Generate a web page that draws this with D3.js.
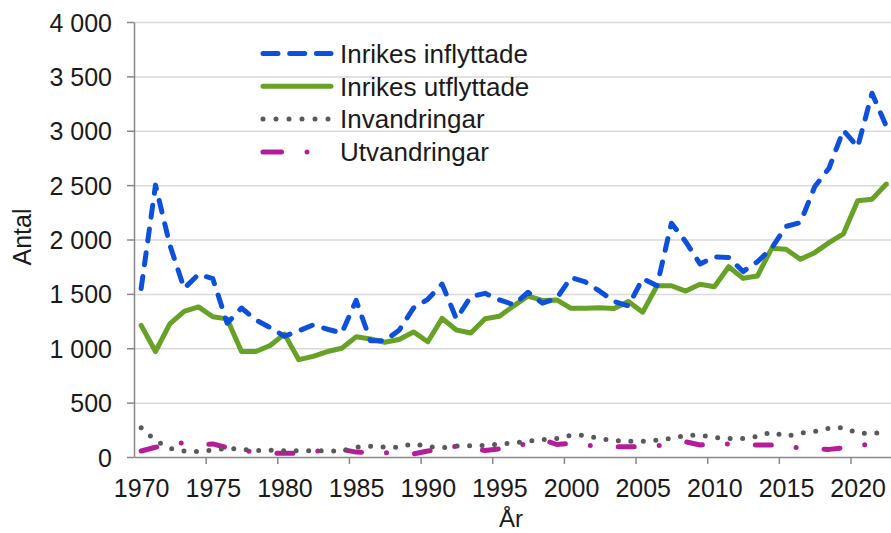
<!DOCTYPE html>
<html>
<head>
<meta charset="utf-8">
<script src="https://cdn.jsdelivr.net/npm/d3@7"></script>
<style>
  body { margin: 0; background: #fff; }
  svg { display: block; font-family: "Liberation Sans", Arial, sans-serif; }
  .axis path, .axis line { stroke: #888888; stroke-width: 1.5; }
  .axis text { fill: #1a1a1a; font-size: 25px; font-family: "Liberation Sans", Arial, sans-serif; }
  .grid line { stroke: #d9d9d9; stroke-width: 1.5; }
  .grid path { display: none; }
</style>
</head>
<body>
<div class="chart"></div>
<script>
// Inflyttning / utflyttning 1970-2022
var years = d3.range(1970, 2023);

var inflyttade = [1550, 2500, 1950, 1550, 1680, 1640, 1230, 1370, 1260, 1190,
  1110, 1160, 1215, 1175, 1140, 1440, 1070, 1070, 1165, 1370,
  1450, 1590, 1270, 1475, 1505, 1445, 1400, 1515, 1415, 1460,
  1650, 1610, 1525, 1430, 1390, 1640, 1575, 2150, 1980, 1775,
  1840, 1835, 1705, 1795, 1920, 2120, 2155, 2485, 2655, 3005,
  2850, 3345, 3040];

var utflyttade = [1210, 970, 1225, 1340, 1380, 1290, 1270, 970, 970, 1025,
  1130, 895, 925, 970, 1000, 1105, 1085, 1055, 1080, 1150,
  1060, 1275, 1168, 1140, 1272, 1295, 1390, 1480, 1440, 1444,
  1367, 1367, 1373, 1365, 1430, 1332, 1575, 1575, 1526, 1588,
  1566, 1750, 1643, 1664, 1919, 1910, 1818, 1879, 1971, 2051,
  2357, 2370, 2510];

var invandringar = [270, 150, 80, 55, 50, 65, 80, 70, 60, 62,
  58, 58, 58, 56, 55, 90, 100, 90, 90, 125,
  95, 85, 100, 104, 106, 118, 130, 145, 160, 170,
  200, 200, 170, 150, 145, 145, 155, 170, 200, 200,
  180, 170, 170, 190, 230, 190, 220, 235, 265, 270,
  220, 215, 235];

var utvandringar = [55, 90, 100, 135, 110, 120, 85, 60, 45, 35,
  35, 35, 50, 65, 70, 45, 40, 40, 35, 28,
  55, 70, 100, 80, 60, 75, 95, 126, 160, 115,
  125, 110, 95, 95, 95, 95, 105, 110, 140, 110,
  125, 120, 115, 110, 110, 105, 80, 75, 70, 85,
  100, 126, 120];

var seriesNames = ["Inrikes inflyttade", "Inrikes utflyttade", "Invandringar", "Utvandringar"];
var yTicks = [0, 500, 1000, 1500, 2000, 2500, 3000, 3500, 4000];
var xLabelYears = [1970, 1975, 1980, 1985, 1990, 1995, 2000, 2005, 2010, 2015, 2020];

var svgWidth = 891;
var svgHeight = 533;

var margin = { top: 22, right: -2.5, bottom: 76, left: 134 };
var width = svgWidth - margin.left - margin.right;
var height = svgHeight - margin.top - margin.bottom;

var svg = d3.select(".chart")
  .append("svg")
  .attr("width", svgWidth)
  .attr("height", svgHeight);

var chartGroup = svg.append("g")
  .attr("transform", `translate(${margin.left}, ${margin.top})`);

// category axis: each year sits in the middle of its slot
var xScale = d3.scaleLinear()
  .domain([1969.5, 2022.5])
  .range([0, width]);

var yScale = d3.scaleLinear()
  .domain([0, 4000])
  .range([height, 0]);

var sv = d3.formatLocale({ decimal: ",", thousands: "\u00a0", grouping: [3], currency: ["", " kr"] });
var fmt = sv.format(",");

// gridlines
chartGroup.append("g")
  .attr("class", "grid")
  .call(d3.axisLeft(yScale).tickValues(yTicks.slice(1)).tickSize(-width).tickFormat(""));

// y axis
var yAxis = chartGroup.append("g")
  .attr("class", "axis")
  .call(d3.axisLeft(yScale).tickValues(yTicks).tickSize(7).tickSizeOuter(0).tickPadding(15).tickFormat(fmt));
yAxis.selectAll("text").attr("dy", "0.36em");

// x axis: tick marks on the slot boundaries, labels on the years
chartGroup.append("g")
  .attr("class", "axis")
  .attr("transform", `translate(0, ${height})`)
  .call(d3.axisBottom(xScale)
    .tickValues(d3.range(1974.5, 2022, 5))
    .tickSize(7).tickSizeOuter(0).tickFormat(""));

var xLab = chartGroup.append("g")
  .attr("class", "axis")
  .attr("transform", `translate(0, ${height})`)
  .call(d3.axisBottom(xScale).tickValues(xLabelYears).tickSize(0).tickPadding(22).tickFormat(d3.format("d")));
xLab.select(".domain").remove();

// lines
var styles = [
  { data: inflyttade, color: "#0c50dc", dash: "12,12" },
  { data: utflyttade, color: "#67a125", dash: null },
  { data: invandringar, color: "#595959", dash: "0,12.5" },
  { data: utvandringar, color: "#b41d9a", dash: "16,25,0,28" }
];

var line = d3.line()
  .x((d, i) => xScale(years[i]))
  .y(d => yScale(d));

// draw bottom series first, blue on top
[3, 2, 1, 0].forEach(function (k) {
  var s = styles[k];
  chartGroup.append("path")
    .datum(s.data)
    .attr("d", line)
    .attr("fill", "none")
    .attr("stroke", s.color)
    .attr("stroke-width", 5)
    .attr("stroke-linecap", "round")
    .attr("stroke-linejoin", "round")
    .attr("stroke-dasharray", s.dash);
});

// legend
var legendDash = ["15,11.7", null, "0,13", "18.5,25.5,0,28"];
var legend = svg.append("g")
  .attr("transform", "translate(263, 53.5)");

seriesNames.forEach(function (name, i) {
  var row = legend.append("g").attr("transform", `translate(0, ${i * 32.8})`);
  row.append("line")
    .attr("x1", 0).attr("x2", 68)
    .attr("y1", 0).attr("y2", 0)
    .attr("stroke", styles[i].color)
    .attr("stroke-width", 5)
    .attr("stroke-linecap", "round")
    .attr("stroke-dasharray", legendDash[i]);
  row.append("text")
    .attr("x", 77)
    .attr("y", 0)
    .attr("dy", "0.36em")
    .attr("font-size", "26px")
    .attr("fill", "#1a1a1a")
    .text(name);
});

// axis titles
svg.append("text")
  .attr("transform", "translate(31, 237) rotate(-90)")
  .attr("text-anchor", "middle")
  .attr("font-size", "25px")
  .attr("fill", "#1a1a1a")
  .text("Antal");

svg.append("text")
  .attr("x", 511)
  .attr("y", 527)
  .attr("text-anchor", "middle")
  .attr("font-size", "24px")
  .attr("fill", "#1a1a1a")
  .text("År");
</script>
</body>
</html>
